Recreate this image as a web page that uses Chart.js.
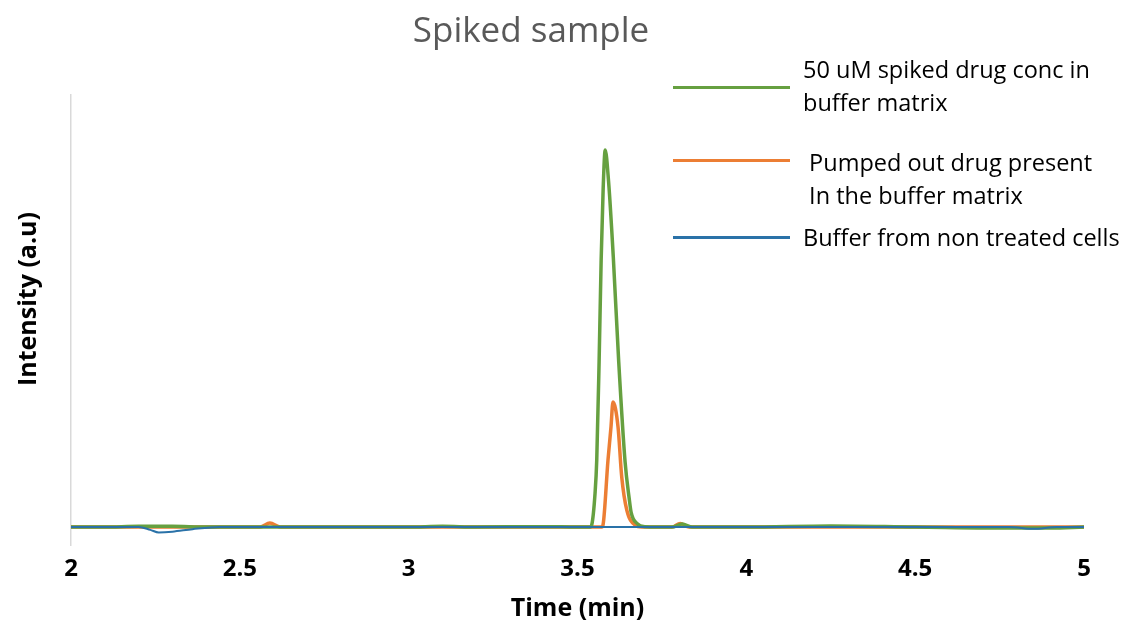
<!DOCTYPE html>
<html>
<head>
<meta charset="utf-8">
<script src="https://cdn.jsdelivr.net/npm/chart.js@4.4.1/dist/chart.umd.min.js"></script>
<style>
  body { margin: 0; background: #fff; }
  #wrap { position: relative; width: 1125px; height: 628px; font-family: "Open Sans", sans-serif; }
  #title { position: absolute; left: 0; width: 1062px; top: 5px; text-align: center; font-size: 35px; color: #595959; }
  #ytitle { position: absolute; left: 26px; top: 299px; font-size: 25px; font-weight: bold; color: #000;
            white-space: nowrap; transform: translate(-50%, -50%) rotate(-90deg); }
  .leg { position: absolute; font-size: 23.5px; color: #000; line-height: 33px; white-space: nowrap; }
  .swatch { position: absolute; height: 3px; width: 117px; }
</style>
</head>
<body>
<div id="wrap">
  <canvas id="chromChart" width="1125" height="628"></canvas>
  <div id="title">Spiked sample</div>
  <div id="ytitle">Intensity (a.u)</div>
  <div id="legend"></div>
</div>
<script>
// x = retention time (min), y = intensity (a.u)
const greenTime = [2.0, 2.1, 2.2, 2.3, 2.4, 2.6, 2.8, 3.0, 3.1, 3.2, 3.4, 3.5, 3.538, 3.542, 3.552, 3.557, 3.564, 3.57, 3.576, 3.582, 3.592, 3.606, 3.622, 3.641, 3.653, 3.659, 3.676, 3.7, 3.78, 3.81, 3.84, 3.9, 4.0, 4.25, 4.5, 4.8, 4.9, 5.0];
const greenVals = [0, 0, 0.2, 0.2, 0, 0, 0, 0, 0.2, 0, 0.1, 0, 0, 0.5, 9.4, 18.6, 46, 74, 94, 104.7, 96, 75, 46, 18, 8, 4, 1, 0.1, 0, 0.8, 0, 0, 0, 0.3, 0, -0.3, -0.3, 0];

const orangeTime = [2.0, 2.4, 2.56, 2.589, 2.62, 3.0, 3.5, 3.572, 3.5755, 3.5903, 3.5992, 3.605, 3.62, 3.631, 3.646, 3.671, 3.69, 3.78, 3.804, 3.83, 4.2, 4.8, 5.0];
const orangeVals = [0, 0, 0, 1.1, 0, 0, 0, 0, 0.5, 18.6, 27.8, 34.7, 27.8, 13.9, 4.7, 0.5, 0, 0, 1, 0, 0, 0, 0];

const blueTime = [2.0, 2.2, 2.235, 2.26, 2.3, 2.36, 2.44, 2.8, 3.3, 3.8, 4.3, 4.78, 4.85, 4.92, 5.0];
const blueVals = [0, 0, -0.8, -1.5, -1.3, -0.6, 0, 0, 0, 0, 0, 0, -0.5, 0, 0];

const xTicks = [2, 2.5, 3, 3.5, 4, 4.5, 5];

const seriesNames = [
  ["Buffer from non treated cells"],
  ["50 uM spiked drug conc in", "buffer matrix"],
  [" Pumped out drug present", " In the buffer matrix"]
];
const seriesColors = ["#2a72a8", "#66a040", "#ec7e34"];

function pts(t, v) {
  return t.map((x, i) => ({ x: x, y: v[i] }));
}

const ctx = document.getElementById("chromChart");

new Chart(ctx, {
  type: "line",
  data: {
    datasets: [
      {
        label: seriesNames[0].join(" "),
        data: pts(blueTime, blueVals),
        borderColor: seriesColors[0],
        borderWidth: 2,
        pointRadius: 0,
        cubicInterpolationMode: "monotone"
      },
      {
        label: seriesNames[1].join(" "),
        data: pts(greenTime, greenVals),
        borderColor: seriesColors[1],
        borderWidth: 3.5,
        pointRadius: 0,
        cubicInterpolationMode: "monotone"
      },
      {
        label: seriesNames[2].join(" "),
        data: pts(orangeTime, orangeVals),
        borderColor: seriesColors[2],
        borderWidth: 3.5,
        pointRadius: 0,
        cubicInterpolationMode: "monotone"
      }
    ]
  },
  options: {
    responsive: false,
    animation: false,
    devicePixelRatio: 1,
    layout: { padding: { top: 95, right: 41, left: 0, bottom: 0 } },
    plugins: {
      legend: { display: false },
      tooltip: { enabled: false }
    },
    scales: {
      x: {
        type: "linear",
        min: 2,
        max: 5,
        afterBuildTicks: s => { s.ticks = xTicks.map(v => ({ value: v })); },
        afterFit: s => { s.height = 83; },
        grid: { display: false, drawTicks: false },
        border: { display: false },
        ticks: {
          color: "#000",
          padding: 10,
          maxRotation: 0,
          callback: v => String(v),
          font: { family: "Open Sans", size: 24, weight: "bold" }
        },
        title: {
          display: true,
          text: "Time (min)",
          color: "#000",
          padding: { top: 0, bottom: 4 },
          font: { family: "Open Sans", size: 25, weight: "bold" }
        }
      },
      y: {
        min: -5,
        max: 120,
        afterFit: s => { s.width = 71; },
        grid: { display: false, drawTicks: false },
        border: { color: "#d9d9d9", width: 1.5 },
        ticks: { display: false }
      }
    }
  }
});

// legend drawn as html text, positioned like the original figure
const legendSpots = [
  { line: 237, text: 221, order: 0 },
  { line: 87, text: 53, order: 1 },
  { line: 160, text: 146, order: 2 }
];
const legend = document.getElementById("legend");
legendSpots.forEach(spot => {
  const sw = document.createElement("div");
  sw.className = "swatch";
  sw.style.left = "673px";
  sw.style.top = (spot.line - 1) + "px";
  sw.style.background = seriesColors[spot.order];
  legend.appendChild(sw);

  const lab = document.createElement("div");
  lab.className = "leg";
  lab.style.left = "803px";
  lab.style.top = spot.text + "px";
  lab.innerHTML = seriesNames[spot.order].join("<br>").replace(/^ /, "&nbsp;").replace(/<br> /, "<br>&nbsp;");
  legend.appendChild(lab);
});
</script>
</body>
</html>
